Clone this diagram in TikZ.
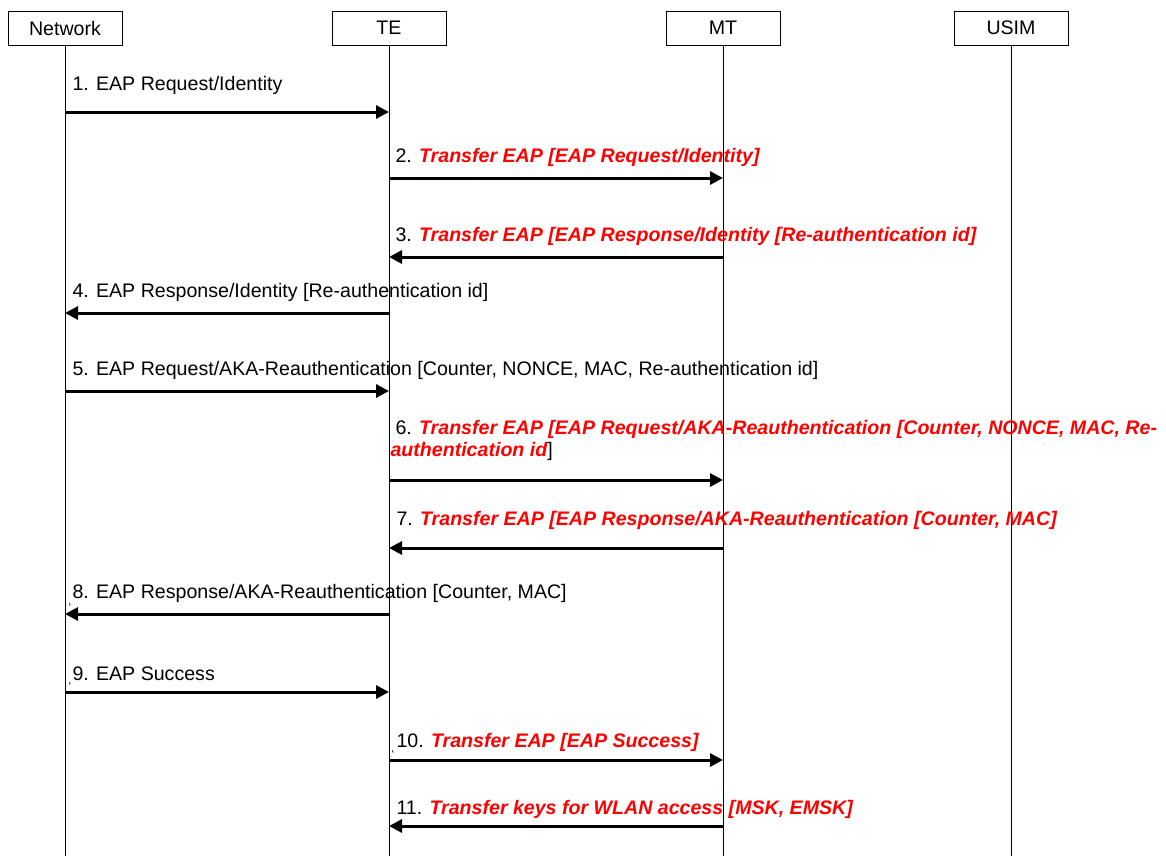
\documentclass[tikz,border=0pt]{standalone}
\usepackage{fontspec}
\setmainfont{Liberation Sans}
\usetikzlibrary{arrows.meta}
\usetikzlibrary{positioning}

\newcommand{\eapred}[1]{\textcolor{red}{\bfseries\itshape #1}}

\tikzset{
    msg/.style={anchor=base west,inner sep=0pt,font=\fontsize{19.6}{23}\selectfont},
    tick/.style={anchor=base west,inner sep=0pt,font=\fontsize{12}{14}\selectfont}
}

\begin{document}
\begin{tikzpicture}[x=1pt,y=-1pt,line width=1pt]
\useasboundingbox (0,0) rectangle (1166,855);

\begin{scope}[every node/.style={draw,minimum width=114pt,minimum height=34pt,inner sep=0pt,
              font=\fontsize{19.6}{23}\selectfont}]
    \node (net) at (65,28) {Network};
    \node (te) at (389,28) {TE};
    \node (mt) at (723,28) {MT};
    \node (usim) at (1011,28) {USIM};
\end{scope}

\foreach \n in {net, te, mt, usim}
    \path (\n.south) ++(0,810) coordinate (\n-bot);
\foreach \n in {net, te, mt, usim}
    \draw (\n.south) -- (\n-bot);

\foreach \i/\y in {1/112, 2/178, 3/257, 4/313, 5/391, 6/480, 7/548, 8/614, 9/692, 10/760, 11/826} {
    \coordinate (net\i) at (65,\y);
    \coordinate (te\i) at (389,\y);
    \coordinate (mt\i) at (723,\y);
}

\begin{scope}[every edge/.style={draw,line width=3pt}]
    \foreach \u/\v in {net1/te1, te2/mt2, mt3/te3, te4/net4, net5/te5, te6/mt6,
                       mt7/te7, te8/net8, net9/te9, te10/mt10, mt11/te11}
        \path [-{Triangle[length=13pt,width=13pt]}] (\u) edge (\v);
\end{scope}

\node[msg] (m1) at (72,90) {1. EAP Request/Identity};
\node[msg] (m2) at (395,162) {2. \eapred{Transfer EAP [EAP Request/Identity]}};
\node[msg] (m3) at (395,241) {3. \eapred{Transfer EAP [EAP Response/Identity [Re-authentication id]}};
\node[msg] (m4) at (72,297) {4. EAP Response/Identity [Re-authentication id]};
\node[msg] (m5) at (72,375) {5. EAP Request/AKA-Reauthentication [Counter, NONCE, MAC, Re-authentication id]};
\node[msg] (m6a) at (395,434) {6. \eapred{Transfer EAP [EAP Request/AKA-Reauthentication [Counter, NONCE, MAC, Re-}};
\node[msg] (m6b) at (390,456) {\eapred{authentication id}]};
\node[msg] (m7) at (396,525) {7. \eapred{Transfer EAP [EAP Response/AKA-Reauthentication [Counter, MAC]}};
\node[msg] (m8) at (72,598) {8. EAP Response/AKA-Reauthentication [Counter, MAC]};
\node[msg] (m9) at (72,680) {9. EAP Success};
\node[msg] (m10) at (396,747) {10. \eapred{Transfer EAP [EAP Success]}};
\node[msg] (m11) at (396,814) {11. \eapred{Transfer keys for WLAN access [MSK, EMSK]}};

\node[tick] (t8) at (68,611) {`};
\node[tick] (t9) at (68,690) {`};
\node[tick] (t10) at (391,758) {`};
\end{tikzpicture}
\end{document}
